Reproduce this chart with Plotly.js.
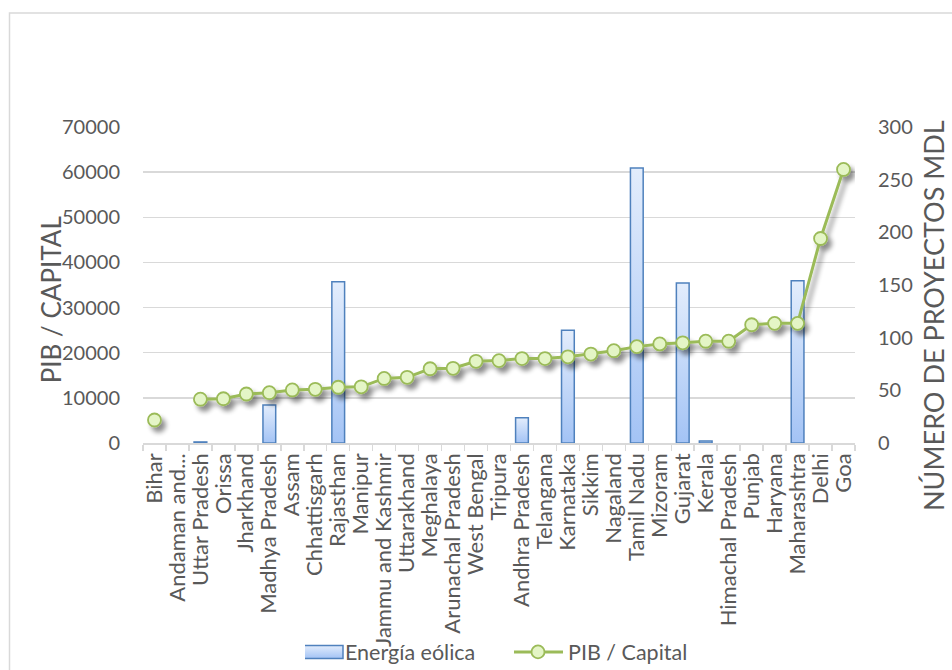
<!DOCTYPE html>
<html>
<head>
<meta charset="utf-8">
<script src="https://cdn.plot.ly/plotly-3.0.1.min.js"></script>
<style>
  html, body { margin: 0; padding: 0; background: #ffffff; }
  #chart { width: 952px; height: 670px; }
</style>
</head>
<body>
<div id="chart"></div>
<script>
// States ordered by GDP per capita
const states = [
  "Bihar", "Andaman and...", "Uttar Pradesh", "Orissa", "Jharkhand",
  "Madhya Pradesh", "Assam", "Chhattisgarh", "Rajasthan", "Manipur",
  "Jammu and Kashmir", "Uttarakhand", "Meghalaya", "Arunachal Pradesh",
  "West Bengal", "Tripura", "Andhra Pradesh", "Telangana", "Karnataka",
  "Sikkim", "Nagaland", "Tamil Nadu", "Mizoram", "Gujarat", "Kerala",
  "Himachal Pradesh", "Punjab", "Haryana", "Maharashtra", "Delhi", "Goa"
];

// Wind-energy CDM projects per state (right axis); null = no projects
const windProjects = [
  null, null, 1, null, null,
  36, null, null, 153, null,
  null, null, null, null,
  null, null, 24, null, 107,
  null, null, 261, null, 152, 2,
  null, null, null, 154, null, null
];

// GDP per capita (left axis); no value for Andaman
const gdpPerCapita = [
  5100, null, 9700, 9800, 10850,
  11150, 11750, 11900, 12350, 12450,
  14300, 14550, 16450, 16550,
  18100, 18250, 18700, 18700, 19100,
  19700, 20450, 21350, 21950, 22200, 22550,
  22550, 26200, 26500, 26500, 45300, 60600
];

const leftTicks = [0, 10000, 20000, 30000, 40000, 50000, 60000, 70000];
const rightTicks = [0, 50, 100, 150, 200, 250, 300];

const FONT = "Lato, 'Open Sans', sans-serif";
const GREY = "#595959";
const GRID = "#d9d9d9";

const traces = [
  {
    type: "bar",
    name: "Energía eólica",
    x: states,
    y: windProjects,
    yaxis: "y",
    marker: { color: "#c3d8f8", line: { color: "#4f81bd", width: 1.5 } },
    hoverinfo: "x+y"
  },
  {
    type: "scatter",
    mode: "lines+markers",
    name: "PIB / Capital",
    x: states,
    y: gdpPerCapita,
    yaxis: "y2",
    connectgaps: false,
    line: { color: "#9bbb59", width: 3 },
    marker: { symbol: "circle", size: 13, color: "#e4f5c6", line: { color: "#9bbb59", width: 1.8 } },
    hoverinfo: "x+y"
  }
];

const layout = {
  width: 952,
  height: 670,
  margin: { l: 143, r: 97, t: 127, b: 227 },
  paper_bgcolor: "#ffffff",
  plot_bgcolor: "rgba(0,0,0,0)",
  font: { family: FONT, color: GREY, size: 20 },
  showlegend: true,
  bargap: 0.445,
  xaxis: {
    type: "category",
    range: [-0.5, states.length - 0.5],
    tickmode: "array",
    tickvals: states,
    ticktext: states,
    tickangle: -90,
    tickfont: { family: FONT, size: 22, color: GREY },
    showgrid: false,
    showline: true,
    linecolor: GRID,
    linewidth: 1.5,
    ticks: "outside",
    tickson: "boundaries",
    ticklen: 6,
    tickcolor: GRID,
    tickwidth: 1.5,
    automargin: false
  },
  // bars: project counts on the right
  yaxis: {
    side: "right",
    range: [0, 300],
    tickvals: rightTicks,
    ticktext: rightTicks.map(String),
    showgrid: false,
    zeroline: false,
    showline: false,
    ticks: "outside",
    ticklen: 18,
    tickcolor: "rgba(0,0,0,0)",
    tickfont: { family: FONT, size: 20, color: GREY },
    automargin: false
  },
  // line: GDP per capita on the left, with the grid
  yaxis2: {
    overlaying: "y",
    side: "left",
    range: [0, 70000],
    tickvals: leftTicks,
    ticktext: leftTicks.map(String),
    showgrid: true,
    gridcolor: GRID,
    gridwidth: 1.5,
    zeroline: false,
    showline: false,
    ticks: "outside",
    ticklen: 18,
    tickcolor: "rgba(0,0,0,0)",
    tickfont: { family: FONT, size: 20, color: GREY },
    automargin: false
  },
  legend: {
    orientation: "h",
    xref: "container",
    yref: "container",
    x: 305 / 952,
    xanchor: "left",
    y: 0.027,
    yanchor: "middle",
    font: { family: FONT, size: 21.5, color: GREY },
    bgcolor: "rgba(0,0,0,0)",
    traceorder: "normal",
    entrywidthmode: "pixels",
    entrywidth: 178,
    borderwidth: 0
  },
  annotations: [
    {
      text: "PIB / CAPITAL",
      xref: "paper", yref: "paper",
      x: -0.129, y: 0.452,
      xanchor: "center", yanchor: "middle",
      textangle: -90,
      showarrow: false,
      font: { family: FONT, size: 26, color: GREY }
    },
    {
      text: "NÚMERO DE PROYECTOS MDL",
      xref: "paper", yref: "paper",
      x: 1.111, y: 0.402,
      xanchor: "center", yanchor: "middle",
      textangle: -90,
      showarrow: false,
      font: { family: FONT, size: 27, color: GREY }
    }
  ],
  shapes: [
    {
      type: "rect",
      xref: "paper", yref: "paper",
      x0: -0.1875, x1: 1.3,
      y0: -1.2, y1: 1.3608,
      line: { color: GRID, width: 1.5 },
      fillcolor: "rgba(0,0,0,0)",
      layer: "below"
    }
  ]
};

Plotly.newPlot("chart", traces, layout, { displayModeBar: false, staticPlot: true }).then(function (gd) {
  const svgNS = "http://www.w3.org/2000/svg";
  const svg = gd.querySelector("svg.main-svg");
  let defs = svg.querySelector("defs");
  if (!defs) { defs = document.createElementNS(svgNS, "defs"); svg.insertBefore(defs, svg.firstChild); }

  // vertical fill gradient for the bars
  const grad = document.createElementNS(svgNS, "linearGradient");
  grad.setAttribute("id", "barFill");
  grad.setAttribute("x1", "0"); grad.setAttribute("y1", "0");
  grad.setAttribute("x2", "0"); grad.setAttribute("y2", "1");
  [["0", "#e3edfc"], ["1", "#a3c3f5"]].forEach(function (s) {
    const st = document.createElementNS(svgNS, "stop");
    st.setAttribute("offset", s[0]);
    st.setAttribute("stop-color", s[1]);
    grad.appendChild(st);
  });
  defs.appendChild(grad);

  // soft drop shadow under the line and its markers
  const filt = document.createElementNS(svgNS, "filter");
  filt.setAttribute("id", "lineShadow");
  filt.setAttribute("x", "-20%"); filt.setAttribute("y", "-20%");
  filt.setAttribute("width", "140%"); filt.setAttribute("height", "140%");
  filt.innerHTML =
    '<feGaussianBlur in="SourceAlpha" stdDeviation="2.5"/>' +
    '<feOffset dx="4" dy="5" result="off"/>' +
    '<feComponentTransfer><feFuncA type="linear" slope="0.45"/></feComponentTransfer>' +
    '<feMerge><feMergeNode/><feMergeNode in="SourceGraphic"/></feMerge>';
  defs.appendChild(filt);

  gd.querySelectorAll(".barlayer .point path").forEach(function (p) {
    p.style.fill = "url(#barFill)";
  });

  // wider legend keys: a long bar swatch and a longer line sample
  gd.querySelectorAll(".legend .traces").forEach(function (t, i) {
    if (i === 0) {
      t.querySelectorAll(".legendpoints path").forEach(function (p) {
        p.setAttribute("d", "M18,6.5H-34V-6.5H18Z");
        p.style.fill = "url(#barFill)";
      });
    } else {
      t.querySelectorAll(".legendlines path").forEach(function (p) {
        p.setAttribute("d", "M-14,0h49");
      });
      t.querySelectorAll(".legendpoints path").forEach(function (p) {
        const tr = p.getAttribute("transform") || "";
        p.setAttribute("transform", tr.replace(/translate\(\s*([\d.\-]+)/, function (m, x) {
          return "translate(" + (parseFloat(x) - 10);
        }));
      });
    }
  });

  gd.querySelectorAll(".scatterlayer .trace").forEach(function (g) {
    g.setAttribute("filter", "url(#lineShadow)");
  });
});
</script>
</body>
</html>
